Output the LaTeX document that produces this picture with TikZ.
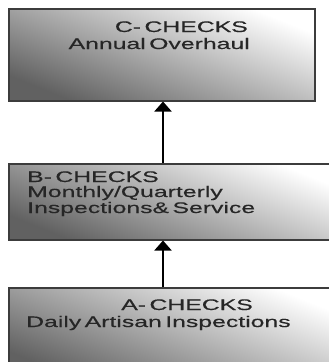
\documentclass[tikz,border=0pt]{standalone}
\usepackage{fontspec}
\setmainfont{Liberation Sans}
\newfontfamily\widefont[FakeStretch=1.62,WordSpace=0.5,FakeBold=0.4]{Liberation Sans}
\usetikzlibrary{arrows.meta}
\definecolor{txt}{HTML}{262626}
\definecolor{frame}{HTML}{3C3C3C}
\tikzset{
  box/.style={draw=frame, line width=2pt, inner sep=0pt, anchor=north west,
    top color=white, bottom color=black!62, shading angle=-22},
  lbl/.style={inner sep=0pt, text=txt, font=\widefont\fontsize{15.3}{16}\selectfont},
  conn/.style={draw=black, line width=2pt, -{Triangle[width=17pt,length=10pt]}}
}
\begin{document}
\begin{tikzpicture}[x=1pt,y=-1pt]
\useasboundingbox (0,0) rectangle (329,362);
\fill[white] (0,0) rectangle (329,362);
\node[box, minimum width=306pt, minimum height=92pt] (C) at (8,7.5) {};
\node[box, minimum width=330pt, minimum height=76pt] (B) at (8,162.5) {};
\node[box, minimum width=330pt, minimum height=90pt] (A) at (8,286.5) {};
\node[lbl, anchor=base east] (c1) at (248,32) {C- CHECKS};
\node[lbl, anchor=base east] (c2) at (250,49) {Annual Overhaul};
\node[lbl, anchor=base west] (b1) at (27,182) {B- CHECKS};
\node[lbl, anchor=base west] (b2) at (27,197) {Monthly/Quarterly};
\node[lbl, anchor=base west] (b3) at (27,213) {Inspections\& Service};
\node[lbl, anchor=base east] (a1) at (253,310) {A- CHECKS};
\node[lbl, anchor=base west] (a2) at (26,327) {Daily Artisan Inspections};
\coordinate (col) at (163,0);
\draw[conn] (B.north -| col) -- (C.south -| col);
\draw[conn] (A.north -| col) -- (B.south -| col);
\end{tikzpicture}
\end{document}
